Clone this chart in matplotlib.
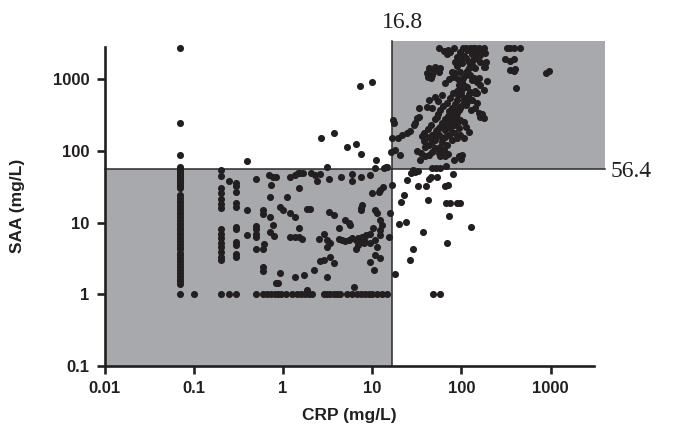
import matplotlib
matplotlib.use("Agg")
import matplotlib.pyplot as plt
from matplotlib.patches import Rectangle

# cut-off values
crp_cut = 16.8
saa_cut = 56.4

# column of samples at CRP 0.07
col007_saa = [2800, 250, 87, 60, 57, 54, 51, 48, 45, 42, 40, 38, 36, 34, 32, 30,
              24, 22, 20, 18.5, 17, 15.5, 14, 13, 12, 11, 10, 9.2, 8.5, 7.8, 7.2,
              6.6, 6, 5.5, 5, 4.6, 4.2, 3.8, 3.5, 3.2, 2.9, 2.6, 2.4, 2.2, 2.0,
              1.8, 1.65, 1.5, 1.4]
# column at CRP 0.2 and 0.3
col02_saa = [55, 45, 30, 26, 21, 18, 16, 8, 7, 6, 5.2, 4.5, 3.9, 3.3, 3.0]
col03_saa = [36, 32, 27, 18.5, 16.5, 8.8, 8.0, 5.4, 4.8, 3.6, 3.3]

# samples with SAA = 1
row1_crp = [0.07, 0.1, 0.2, 0.25, 0.3, 0.5, 0.6, 0.66, 0.73, 0.82, 0.89, 0.95,
            1.08, 1.26, 1.43, 1.6, 1.77, 1.94, 2.13, 2.85, 3.1, 3.4, 3.7, 4.0,
            4.4, 5.2, 5.9, 6.8, 7.4, 8.4, 9.1, 9.9, 11.3, 12.9, 14.7, 48, 58]

# lower left region
low_crp = [0.25, 0.40, 0.40, 0.50, 0.50, 0.50, 0.50, 0.50, 0.50, 0.59, 0.60, 0.61,
           0.60, 0.60, 0.60, 0.70, 0.77, 0.84, 0.74, 0.71, 0.71, 0.71, 0.78, 0.80,
           0.83, 0.88, 0.92,
           1.21, 1.37, 1.46, 1.56, 1.67, 2.06, 2.3, 2.4, 2.58, 3.1, 3.25, 4.47,
           5.9, 5.9, 7.4, 9.5, 10.7, 13.4, 14.4, 16.6,
           1.11, 1.5, 0.93, 1.0, 1.19, 1.37, 1.5, 1.86, 2.02, 1.19, 1.37, 1.5, 1.63,
           3.25, 3.7, 4.2, 4.9, 5.45, 5.7,
           2.5, 2.86, 3.1, 3.4, 4.2, 4.6, 5.0, 5.45, 5.9, 6.5, 6.9, 7.4, 8.0, 8.6,
           7.7, 6.5, 6.9, 8.0, 9.5, 10.8,
           10.2, 12.3, 12.3, 12.1, 10.8, 11.3, 7.7, 7.4, 7.4, 10.0, 11.8, 12.3, 16,
           15.6, 12.9, 9.5, 13.2,
           11.3, 10.8, 9.5, 10.5, 12.3, 3.1, 3.4, 3.7, 2.86, 2.58, 2.2, 1.7, 1.37,
           3.1, 6.2, 1.86]
low_saa = [38, 15, 6.7, 41, 9.0, 8.0, 7.0, 6.2, 4.2, 15, 13, 5.0,
           4.2, 2.4, 2.1, 46, 44, 44, 34, 23, 12, 7.4, 9.2, 6.4,
           1.42, 1.42, 1.98,
           44, 46, 50, 49, 49, 49, 46, 38, 48, 59, 41, 43,
           48, 38, 43, 46, 58, 58, 60, 33,
           23, 30, 16.6, 14.9, 13.7, 11.8, 8.3, 15.7, 15.7, 6.2, 6.2, 6.2, 5.9,
           14.1, 12.7, 8.3, 10.8, 9.7, 9.2,
           5.8, 6.9, 5.7, 5.1, 5.8, 5.7, 5.6, 5.7, 6.0, 5.7, 6.0, 5.4, 5.7, 6.7,
           6.3, 4.3, 4.8, 5.1, 5.1, 5.7,
           8.3, 10.8, 7.8, 6.7, 14.9, 13.4, 17.5, 14.9, 16, 25.5, 26.9, 28.4, 13.4,
           6.3, 9.2, 7.0, 31,
           4.6, 3.5, 2.83, 2.2, 3.2, 4.6, 3.3, 2.7, 3.0, 2.9, 2.17, 1.85, 1.75,
           1.75, 1.27, 1.15]

# high SAA but low CRP
hs_crp = [0.40, 2.67, 3.73, 5.2, 6.6, 7.4, 7.2, 9.9, 11.0, 14.6]
hs_saa = [73, 150, 178, 115, 124, 91, 800, 930, 76, 60]

# high CRP but low SAA
hc_crp = [18.1, 19.8, 23.9, 20.8, 22.7, 24.8, 27.4, 28.3, 30.4, 32.5, 29, 26.8,
          32.5, 40, 42, 36.7, 43, 45, 53, 66, 70, 80, 67, 75, 89, 97, 73, 69, 129,
          47, 52, 58, 67]
hc_saa = [1.9, 9.5, 10.3, 19.4, 24, 39, 49, 54, 51, 53, 4.2, 3.0,
          32, 32, 20.5, 7.4, 41, 43, 43, 32, 34, 47, 18.9, 18.9, 18.9, 18.9, 12.3,
          5.2, 8.7, 58, 58, 58, 62]

# upper right region
up_crp = [16.9, 17.4, 16.6, 19.4, 21.6, 16.4, 18.2, 20.7, 24.5, 26.7, 29.1, 31.9,
          34.5, 57, 70, 100,
          55.6, 63, 69, 82, 89, 97, 103, 111, 119, 126, 134, 143, 156, 170, 182,
          111, 121, 134, 150, 163, 177, 143, 126, 102, 85,
          78, 85, 97, 111, 126, 137, 150, 163, 177, 102, 93, 116, 126, 143, 119,
          106, 116, 131, 150, 143, 129, 156, 177, 111, 97, 85, 78,
          75, 69, 75, 82, 89, 97, 106, 112, 121, 93, 85, 78, 72, 65, 61, 55.6, 51,
          47, 43, 39, 38, 41, 47, 53, 58, 66, 61, 58, 51, 47, 55.6, 63, 69, 78, 89,
          97, 106, 102, 93, 82, 66, 43, 39, 35, 32,
          51, 43, 41, 47, 33, 53, 30, 33,
          43, 49, 41, 47, 58, 51, 55.6, 45, 42,
          181, 185, 190, 194, 170, 160, 140, 150, 156, 131,
          324, 353, 392, 450, 311, 347, 385, 353, 385, 402, 413, 895, 950,
          60, 65, 70, 75, 80, 85, 90, 72, 78, 84, 88, 92, 100, 95, 105, 110, 88,
          80, 75, 68, 62, 58, 55, 50, 45, 42, 38, 36, 44, 48, 52, 56, 64, 68, 90,
          95, 100, 108, 115, 120, 98, 92, 104, 115, 120, 130, 100, 108, 90, 70,
          75, 145, 160, 130, 115, 65, 72, 80, 60, 55]
up_saa = [272, 245, 150, 154, 168, 96, 104, 88, 177, 191, 228, 286,
          74, 85, 90, 78,
          2720, 2500, 2250, 2720, 2080, 2390, 2720, 2790, 2580, 2790, 2720, 2790,
          2790, 2580, 2320,
          1980, 1770, 1870, 2020, 1770, 1510, 1430, 1510, 1680, 1740,
          1290, 1220, 1290, 1160, 1160, 1040, 933, 838, 713, 933, 838, 795, 676,
          641, 576, 546, 490, 517, 465, 395, 375, 337, 287, 440, 395, 375, 337,
          272, 244, 219, 232, 244, 272, 258, 219, 187, 208, 177, 187, 168, 159,
          151, 168, 143, 133, 122, 115, 138, 159, 168, 197, 219, 197, 135, 115,
          109, 98, 93, 104, 122, 143, 151, 168, 151, 88, 84, 75, 84, 88, 84, 93,
          100,
          576, 517, 418, 395, 395, 303, 244, 303,
          1430, 1330, 1220, 1160, 1430, 1510, 1290, 1040, 1100,
          2790, 1510, 1740, 953, 327, 303, 690, 641, 1060, 985,
          2790, 2790, 2790, 2790, 1930, 1810, 1930, 1360, 1310, 1400, 769, 1220,
          1310,
          250, 280, 310, 330, 300, 260, 290, 360, 400, 450, 520, 600, 650, 700,
          760, 820, 700, 650, 560, 470, 420, 380, 330, 280, 230, 200, 180, 160,
          150, 170, 190, 210, 230, 260, 340, 380, 430, 500, 560, 620, 900, 1000,
          1050, 1300, 1450, 1600, 1900, 2100, 1550, 2600, 2400, 2400, 2200, 2300,
          2600, 900, 1000, 1100, 600, 500]

crp_ticks = [0.01, 0.1, 1, 10, 100, 1000]
crp_labels = ['0.01', '0.1', '1', '10', '100', '1000']
saa_ticks = [0.1, 1, 10, 100, 1000]
saa_labels = ['0.1', '1', '10', '100', '1000']

ink = '#231f20'
shade = '#a7a9ac'
sans = ['Liberation Sans Narrow', 'Liberation Sans', 'DejaVu Sans']

fig = plt.figure(figsize=(6.76, 4.41), dpi=100)
ax = fig.add_axes([0.1546, 0.171, 0.724, 0.7225])
ax.set_xscale('log')
ax.set_yscale('log')
xmin, xmax = 0.01, 3050
ymin, ymax = 0.1, 2850
ax.set_xlim(xmin, xmax)
ax.set_ylim(ymin, ymax)

# shaded quadrants (upper box reaches past the axes)
box_right, box_top = 4100, 3400
ax.add_patch(Rectangle((xmin, ymin), crp_cut - xmin, saa_cut - ymin,
                       facecolor=shade, edgecolor='none', zorder=1, clip_on=False))
ax.add_patch(Rectangle((crp_cut, saa_cut), box_right - crp_cut, box_top - saa_cut,
                       facecolor=shade, edgecolor='none', zorder=1, clip_on=False))
ax.plot([crp_cut, crp_cut], [ymin, box_top], color='#2a2a2a', lw=1.1,
        zorder=2, clip_on=False)
ax.plot([xmin, box_right], [saa_cut, saa_cut], color='#2a2a2a', lw=1.1,
        zorder=2, clip_on=False)

# points
all_crp = ([0.07] * len(col007_saa) + [0.2] * len(col02_saa) + [0.3] * len(col03_saa)
           + row1_crp + low_crp + hs_crp + hc_crp + up_crp)
all_saa = (col007_saa + col02_saa + col03_saa + [1.0] * len(row1_crp)
           + low_saa + hs_saa + hc_saa + up_saa)
ax.scatter(all_crp, all_saa, s=26, color=ink, linewidths=0, zorder=3, clip_on=False)

for side in ['top', 'right']:
    ax.spines[side].set_visible(False)
for side in ['left', 'bottom']:
    ax.spines[side].set_linewidth(1.9)
    ax.spines[side].set_color(ink)
    ax.spines[side].set_zorder(4)

ax.set_xticks(crp_ticks)
ax.set_xticklabels(crp_labels)
ax.set_yticks(saa_ticks)
ax.set_yticklabels(saa_labels)
ax.minorticks_off()
ax.tick_params(direction='out', length=6, width=1.9, color=ink, pad=5)
for lab in ax.get_xticklabels() + ax.get_yticklabels():
    lab.set_family(sans)
    lab.set_fontweight('bold')
    lab.set_fontsize(12)
    lab.set_color(ink)

ax.set_xlabel('CRP (mg/L)', family=sans, fontweight='bold', fontsize=12.5,
              color=ink, labelpad=9)
ax.set_ylabel('SAA (mg/L)', family=sans, fontweight='bold', fontsize=12.5,
              color=ink, labelpad=20)

fig.text(0.595, 0.95, '16.8', family='Liberation Serif', fontsize=17,
         ha='center', va='center', color=ink)
fig.text(0.903, 0.612, '56.4', family='Liberation Serif', fontsize=17,
         ha='left', va='center', color=ink)

fig.savefig('out.png', dpi=100)
